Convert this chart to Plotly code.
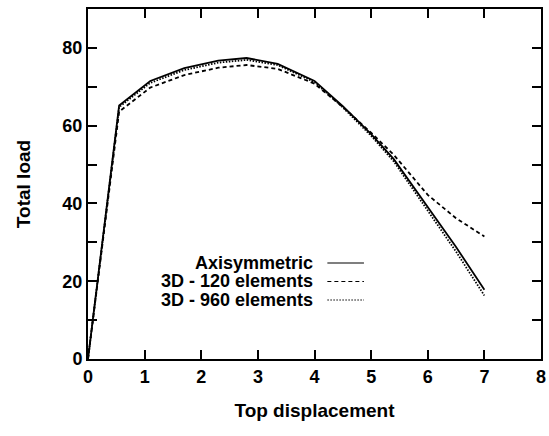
import plotly.graph_objects as go

x_axi = [0, 0.55, 1.1, 1.7, 2.3, 2.8, 3.35, 4.0, 4.5, 5.0, 5.4, 6.0, 6.5, 7.0]
y_axi = [0, 65.2, 71.5, 74.8, 76.7, 77.4, 75.9, 71.5, 65.0, 57.8, 51.4, 39.0, 28.8, 17.8]

x_120 = [0, 0.55, 1.1, 1.7, 2.3, 2.8, 3.35, 4.0, 4.5, 5.0, 5.4, 6.0, 6.5, 7.0]
y_120 = [0, 63.6, 69.8, 73.0, 74.9, 75.6, 74.6, 70.8, 64.8, 58.2, 52.5, 42.2, 36.2, 31.5]

x_960 = [0, 0.55, 1.1, 1.7, 2.3, 2.8, 3.35, 4.0, 4.5, 5.0, 5.4, 6.0, 6.5, 7.0]
y_960 = [0, 64.8, 71.0, 74.3, 76.2, 76.9, 75.6, 71.2, 64.7, 57.4, 50.8, 38.2, 27.6, 16.3]

x_ticks = [0, 1, 2, 3, 4, 5, 6, 7, 8]
y_ticks = [0, 20, 40, 60, 80]

names = ["Axisymmetric", "3D - 120 elements", "3D - 960 elements"]
dashes = ["solid", "4px,3px", "1.5px,1.5px"]

FONT = "Liberation Sans"
L, R, T, B = 88, 546, 9, 359
W, H = 549, 436

fig = go.Figure()
for xs, ys, d, n in [(x_axi, y_axi, dashes[0], names[0]), (x_120, y_120, dashes[1], names[1]), (x_960, y_960, dashes[2], names[2])]:
    fig.add_trace(go.Scatter(x=xs, y=ys, mode="lines", name=n,
                             line=dict(color="black", width=1.8, dash=d), showlegend=False))

# manual legend (gnuplot style: text right-aligned, sample line to the right)
leg_y = [263, 281.5, 300]
legend_text = "<br>".join('<span style="font-size:18px"><b>%s</b></span>' % n for n in names)
fig.add_annotation(xref="paper", yref="paper", x=(317 - L) / (R - L),
                   y=(B - leg_y[1]) / (B - T), text=legend_text,
                   showarrow=False, xanchor="right", yanchor="middle", align="right",
                   font=dict(family=FONT, size=14.2, color="black"))
for i, n in enumerate(names):
    yp = (B - leg_y[i]) / (B - T)
    fig.add_shape(type="line", xref="paper", yref="paper",
                  x0=(330 - L) / (R - L), x1=(367 - L) / (R - L),
                  y0=yp, y1=yp,
                  line=dict(color="black", width=1.2, dash=dashes[i]))

axis_common = dict(showgrid=False, zeroline=False, showline=True, linecolor="black",
                   linewidth=2, mirror="allticks", ticks="inside", ticklen=9,
                   tickwidth=1.6, tickcolor="black", ticklabeloverflow="allow",
                   tickfont=dict(family=FONT, size=18, color="black", weight="bold"))

fig.update_xaxes(range=[0, 8], tickvals=x_ticks, ticktext=[str(v) for v in x_ticks],
                 title=dict(text="<b>Top displacement</b>", standoff=18,
                            font=dict(family=FONT, size=19, color="black")),
                 **axis_common)
fig.update_yaxes(range=[0, 90], tickvals=y_ticks, ticktext=[str(v) for v in y_ticks],
                 minor=dict(dtick=10, tick0=0, ticks="inside", ticklen=9, tickwidth=1.6, tickcolor="black"),
                 title=dict(text="<b>Total load</b>", standoff=27,
                            font=dict(family=FONT, size=19, color="black")),
                 **axis_common)

fig.update_layout(width=W, height=H, margin=dict(l=L, r=W - R, t=T, b=H - B),
                  plot_bgcolor="white", paper_bgcolor="white")

fig.write_html("out.html")
